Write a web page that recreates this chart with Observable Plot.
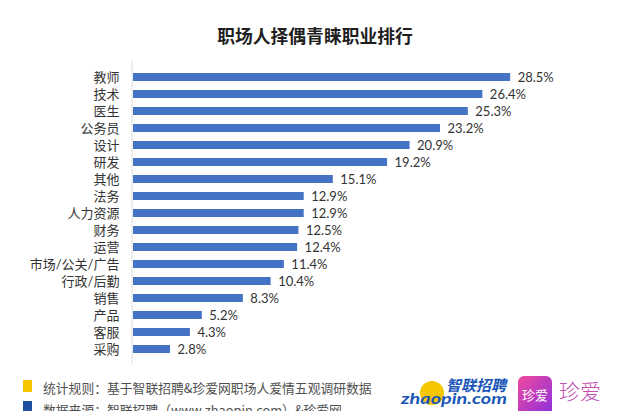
<!DOCTYPE html>
<html><head><meta charset="utf-8">
<script src="https://cdn.jsdelivr.net/npm/d3@7"></script>
<script src="https://cdn.jsdelivr.net/npm/@observablehq/plot@0.6"></script>
<style>
body{margin:0;background:#fff;font-family:"Noto Sans CJK SC","Noto Sans",sans-serif;}
#wrap{position:relative;width:640px;height:411px;overflow:hidden;background:#fff;}
#title{position:absolute;left:0;width:630px;top:23px;text-align:center;font-size:17.8px;font-weight:bold;color:#1e1e1e;line-height:24px;}
#chart{position:absolute;left:0;top:55px;}
.sq{position:absolute;left:23px;width:9px;height:12px;}
.ft{position:absolute;left:43px;font-size:12.8px;color:#505050;line-height:16px;white-space:nowrap;}
#logo{position:absolute;left:390px;top:360px;}
</style></head>
<body><div id="wrap">
<div id="title">职场人择偶青睐职业排行</div>
<div id="chart"></div>
<div class="sq" style="top:380px;background:#F7C600;"></div>
<div class="ft" style="top:380px;">统计规则：基于智联招聘&amp;珍爱网职场人爱情五观调研数据</div>
<div class="sq" style="top:401px;background:#1F4FA0;"></div>
<div class="ft" style="top:402px;">数据来源：智联招聘（www.zhaopin.com）&amp;珍爱网</div>
<svg id="logo" width="250" height="51">
  <defs><linearGradient id="g" x1="0" y1="0" x2="1" y2="1"><stop offset="0" stop-color="#f04a9c"/><stop offset="1" stop-color="#8b2fe0"/></linearGradient></defs>
  <circle cx="42" cy="33" r="12" fill="#F7C600"/>
  <text x="56" y="31" font-size="15" font-weight="bold" font-style="italic" fill="#1a56b8" font-family="Noto Sans CJK SC">智联招聘</text>
  <text x="11" y="44" font-size="16" font-weight="bold" font-style="italic" fill="#1a56b8" font-family="Lato" textLength="106" lengthAdjust="spacingAndGlyphs">zhaopin.com</text>
  <rect x="128" y="16" width="34" height="40" rx="6" fill="url(#g)"/>
  <text x="145" y="40" font-size="13" fill="#fff" text-anchor="middle" font-family="Noto Sans CJK SC">珍爱</text>
  <text x="169" y="39" font-size="21" fill="#c24fb3" font-weight="300" font-family="Noto Sans CJK SC">珍爱</text>
</svg>
</div>
<script>
const categories = ["教师","技术","医生","公务员","设计","研发","其他","法务","人力资源","财务","运营","市场/公关/广告","行政/后勤","销售","产品","客服","采购"];
const values = [28.5,26.4,25.3,23.2,20.9,19.2,15.1,12.9,12.9,12.5,12.4,11.4,10.4,8.3,5.2,4.3,2.8];
const data = categories.map((c,i)=>({category:c, value:values[i]}));
const font = 'Lato,"Noto Sans CJK SC","Noto Sans",sans-serif';
const chart = Plot.plot({
  width:640, height:312, marginLeft:133, marginRight:110, marginTop:6, marginBottom:3,
  x:{domain:[0,30], axis:null},
  y:{domain:categories, padding:0.55, axis:null},
  style:{fontFamily:font, fontSize:"13px", color:"#333", background:"transparent"},
  marks:[
    Plot.ruleX([0],{stroke:"#dcdcdc", dx:-1.5}),
    Plot.barX(data,{x:"value", y:"category", fill:"#4472C4"}),
    Plot.axisY({tickSize:0, tickPadding:14, fontSize:13, label:null, fill:"#333"}),
    Plot.text(data,{x:"value", y:"category", text:d=>d.value.toFixed(1)+"%", textAnchor:"start", dx:7, fill:"#333", fontSize:13})
  ]
});
document.getElementById("chart").appendChild(chart);
</script>
</body></html>
